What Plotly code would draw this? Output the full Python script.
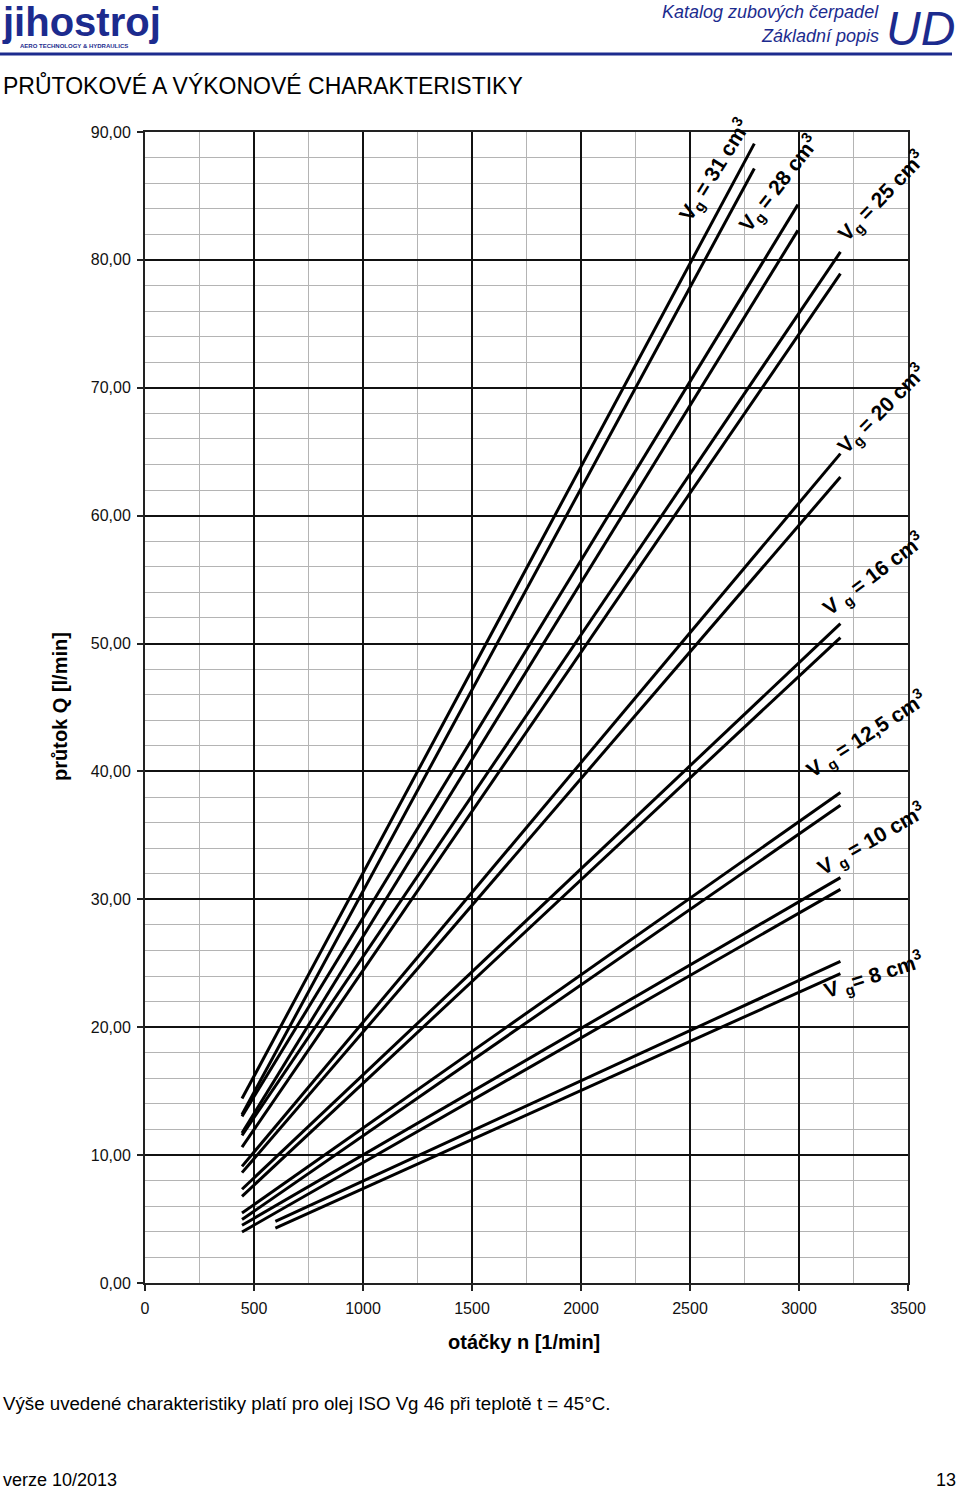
import plotly.graph_objects as go

# ---- data ----
vg_names = ["31", "28", "25", "20", "16", "12,5", "10", "8"]
n_start = [445, 445, 445, 445, 445, 445, 445, 598]
n_end = [2795, 2995, 3190, 3190, 3190, 3190, 3190, 3190]
q_start_upper = [14.42, 13.03, 11.55, 9.12, 7.33, 5.47, 4.51, 4.82]
q_end_upper = [89.09, 84.32, 80.62, 64.85, 51.56, 38.35, 31.70, 25.15]
q_start_lower = [13.17, 11.73, 10.63, 8.63, 6.78, 4.96, 3.99, 4.30]
q_end_lower = [87.14, 82.31, 78.93, 63.02, 50.47, 37.35, 30.78, 24.19]

y_tickvals = [0, 10, 20, 30, 40, 50, 60, 70, 80, 90]
y_ticktext = ["0,00", "10,00", "20,00", "30,00", "40,00", "50,00", "60,00", "70,00", "80,00", "90,00"]
x_tickvals = [0, 500, 1000, 1500, 2000, 2500, 3000, 3500]

# ---- layout geometry ----
W, H = 960, 1490
L, R, T, B = 145, 52, 132, 207
PW, PH = W - L - R, H - T - B


def px(xp):
    return (xp - L) / PW


def py(yp):
    return (H - B - yp) / PH


fig = go.Figure()
for i in range(len(vg_names)):
    for qs, qe in ((q_start_upper[i], q_end_upper[i]), (q_start_lower[i], q_end_lower[i])):
        fig.add_trace(go.Scatter(
            x=[n_start[i], n_end[i]], y=[qs, qe], mode="lines",
            line=dict(color="black", width=3), showlegend=False, hoverinfo="skip"))

NAVY = "#1c2b8e"
FONT = "Liberation Sans, Arial, sans-serif"

# curve labels: text, centre pixel, angle
label_text = {
    "31": "V<sub>g</sub> = 31 cm<sup>3</sup>",
    "28": "V<sub>g</sub> = 28 cm<sup>3</sup>",
    "25": "V<sub>g</sub> = 25 cm<sup>3</sup>",
    "20": "V<sub>g</sub> = 20 cm<sup>3</sup>",
    "16": "V <sub>g</sub> = 16 cm<sup>3</sup>",
    "12,5": "V <sub>g</sub> = 12,5 cm<sup>3</sup>",
    "10": "V <sub>g</sub> = 10 cm<sup>3</sup>",
    "8": "V <sub>g</sub>= 8 cm<sup>3</sup>",
}
label_pos = {
    "31": (714, 170, -58), "28": (779, 184, -52), "25": (881, 196, -46),
    "20": (881, 409, -45), "16": (873, 574, -37), "12,5": (866, 734, -33),
    "10": (871, 839, -30), "8": (873, 975, -18),
}
ann = []
for name in vg_names:
    cx, cy, ang = label_pos[name]
    ann.append(dict(x=px(cx), y=py(cy), xref="paper", yref="paper", text="<b>" + label_text[name] + "</b>",
                    showarrow=False, textangle=ang, xanchor="center", yanchor="middle",
                    font=dict(family=FONT, size=21, color="black")))

# axis titles
ann.append(dict(x=px(524), y=py(1342), xref="paper", yref="paper", text="<b>otáčky n [1/min]</b>",
                showarrow=False, xanchor="center", yanchor="middle", font=dict(family=FONT, size=20, color="black")))
ann.append(dict(x=px(60), y=py(707), xref="paper", yref="paper", text="<b>průtok Q [l/min]</b>", textangle=-90,
                showarrow=False, xanchor="center", yanchor="middle", font=dict(family=FONT, size=20, color="black")))

# page texts
ann.append(dict(x=px(1), y=py(85), xref="paper", yref="paper", text="PRŮTOKOVÉ A VÝKONOVÉ CHARAKTERISTIKY",
                showarrow=False, xanchor="left", yanchor="middle", font=dict(family=FONT, size=23, color="black")))
ann.append(dict(x=px(1), y=py(1403), xref="paper", yref="paper",
                text="Výše uvedené charakteristiky platí pro olej ISO Vg 46 při teplotě t = 45°C.",
                showarrow=False, xanchor="left", yanchor="middle", font=dict(family=FONT, size=18.7, color="black")))
ann.append(dict(x=px(1), y=py(1480), xref="paper", yref="paper", text="verze 10/2013",
                showarrow=False, xanchor="left", yanchor="middle", font=dict(family=FONT, size=18, color="black")))
ann.append(dict(x=px(958), y=py(1480), xref="paper", yref="paper", text="13",
                showarrow=False, xanchor="right", yanchor="middle", font=dict(family=FONT, size=18, color="black")))

# header
ann.append(dict(x=px(881), y=py(12), xref="paper", yref="paper", text="<i>Katalog zubových čerpadel</i>",
                showarrow=False, xanchor="right", yanchor="middle", font=dict(family=FONT, size=18, color=NAVY)))
ann.append(dict(x=px(881), y=py(36), xref="paper", yref="paper", text="<i>Základní popis</i>",
                showarrow=False, xanchor="right", yanchor="middle", font=dict(family=FONT, size=18, color=NAVY)))
ann.append(dict(x=px(884), y=py(28), xref="paper", yref="paper", text="<i>UD</i>",
                showarrow=False, xanchor="left", yanchor="middle", font=dict(family=FONT, size=48, color=NAVY)))
ann.append(dict(x=px(0), y=py(22), xref="paper", yref="paper", text="<b>jihostroj</b>",
                showarrow=False, xanchor="left", yanchor="middle", font=dict(family=FONT, size=40, color=NAVY)))
ann.append(dict(x=px(18), y=py(46), xref="paper", yref="paper", text="<b>AERO TECHNOLOGY &amp; HYDRAULICS</b>",
                showarrow=False, xanchor="left", yanchor="middle", font=dict(family=FONT, size=6, color=NAVY)))

shapes = [
    dict(type="line", xref="paper", yref="paper", x0=px(0), x1=px(952), y0=py(54), y1=py(54),
         line=dict(color=NAVY, width=3)),
]

fig.update_layout(
    width=W, height=H, margin=dict(l=L, r=R, t=T, b=B, autoexpand=False),
    paper_bgcolor="white", plot_bgcolor="white",
    font=dict(family=FONT, color="#111"),
    annotations=ann, shapes=shapes, showlegend=False,
    xaxis=dict(range=[0, 3500], tickvals=x_tickvals, showgrid=True, gridcolor="#111", gridwidth=1.5,
               minor=dict(tickmode="linear", tick0=0, dtick=250, showgrid=True, gridcolor="#b4b4b4", gridwidth=1),
               showline=True, linecolor="#222", linewidth=2, mirror=True, zeroline=False,
               ticks="outside", ticklen=6, tickwidth=1.5, tickcolor="#222",
               tickfont=dict(family=FONT, size=16, color="#111"), ticklabelstandoff=4),
    yaxis=dict(range=[0, 90], tickvals=y_tickvals, ticktext=y_ticktext, showgrid=True, gridcolor="#111",
               gridwidth=1.5,
               minor=dict(tickmode="linear", tick0=0, dtick=2, showgrid=True, gridcolor="#b4b4b4", gridwidth=1),
               showline=True, linecolor="#222", linewidth=2, mirror=True, zeroline=False,
               ticks="outside", ticklen=6, tickwidth=1.5, tickcolor="#222",
               tickfont=dict(family=FONT, size=16, color="#111"), ticklabelstandoff=3),
)

fig.write_html("out.html")
